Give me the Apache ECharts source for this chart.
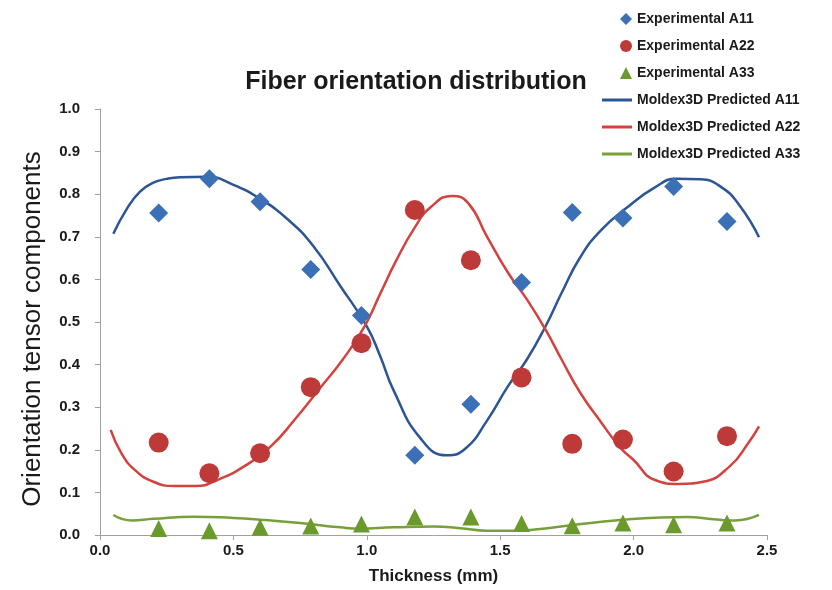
<!DOCTYPE html>
<html>
<head>
<meta charset="utf-8">
<script src="https://cdn.jsdelivr.net/npm/echarts@6/dist/echarts.min.js"></script>
<style>html,body{margin:0;padding:0;background:#fff}#c{width:832px;height:590px}</style>
</head>
<body>
<div id="c"></div>
<script>
// Experimental data
var expX   = [0.22, 0.41, 0.60, 0.79, 0.98, 1.18, 1.39, 1.58, 1.77, 1.96, 2.15, 2.35];
var expA11 = [0.756, 0.836, 0.782, 0.623, 0.515, 0.187, 0.307, 0.593, 0.757, 0.744, 0.818, 0.736];
var expA22 = [0.217, 0.145, 0.192, 0.347, 0.450, 0.763, 0.645, 0.370, 0.214, 0.224, 0.149, 0.232];
var expA33 = [0.015, 0.010, 0.018, 0.021, 0.026, 0.042, 0.042, 0.027, 0.022, 0.028, 0.024, 0.028];

// Predicted curves
var predA11X = [0.05,0.10,0.15,0.20,0.25,0.30,0.40,0.50,0.60,0.70,0.80,0.90,1.00,1.05,1.10,1.20,1.30,1.37,1.45,1.53,1.60,1.67,1.73,1.80,1.88,1.98,2.08,2.16,2.25,2.33,2.40,2.47];
var predA11  = [0.707,0.765,0.806,0.827,0.836,0.840,0.841,0.822,0.789,0.743,0.678,0.585,0.490,0.420,0.340,0.228,0.187,0.203,0.268,0.350,0.412,0.490,0.568,0.652,0.717,0.771,0.816,0.836,0.835,0.816,0.771,0.699];
var predA22X = [0.04,0.08,0.13,0.20,0.28,0.36,0.44,0.54,0.64,0.73,0.83,0.91,0.99,1.05,1.11,1.18,1.24,1.32,1.38,1.45,1.53,1.60,1.67,1.73,1.80,1.88,1.95,2.00,2.08,2.17,2.26,2.36,2.43,2.47];
var predA22  = [0.247,0.192,0.153,0.125,0.115,0.115,0.129,0.161,0.208,0.271,0.349,0.412,0.488,0.566,0.644,0.722,0.770,0.796,0.779,0.701,0.615,0.553,0.482,0.412,0.334,0.263,0.205,0.176,0.129,0.120,0.125,0.161,0.216,0.255];
var predA33X = [0.05,0.12,0.20,0.35,0.50,0.60,0.75,0.90,0.97,1.10,1.25,1.35,1.45,1.55,1.65,1.78,1.95,2.10,2.20,2.30,2.38,2.47];
var predA33  = [0.047,0.034,0.038,0.043,0.040,0.036,0.028,0.018,0.015,0.018,0.020,0.016,0.010,0.010,0.014,0.024,0.035,0.041,0.042,0.037,0.034,0.047];

var xTicks = ['0.0','0.5','1.0','1.5','2.0','2.5'];
var yTicks = ['0.0','0.1','0.2','0.3','0.4','0.5','0.6','0.7','0.8','0.9','1.0'];

function pairs(xs, ys){ return xs.map(function(x,i){ return [x, ys[i]]; }); }

var FONT = '"Liberation Sans", Arial, sans-serif';
var LINE_ICON = 'path://M0,0 L100,0 L100,10 L0,10 Z';
var chart = echarts.init(document.getElementById('c'), null, {renderer:'canvas'});
chart.setOption({
  animation: false,
  backgroundColor: '#fff',
  title: {
    text: 'Fiber orientation distribution',
    left: 'center', top: 65,
    textStyle: {fontFamily: FONT, fontSize: 25, fontWeight: 'bold', color: '#1a1a1a'}
  },
  legend: [{
    data: ['Experimental A11','Experimental A22','Experimental A33'],
    orient: 'vertical', left: 615, top: 6,
    itemWidth: 12, itemHeight: 12, itemGap: 11,
    textStyle: {fontFamily: FONT, fontSize: 14, fontWeight: 'bold', color: '#1a1a1a', lineHeight: 16}
  },{
    data: [
      {name: 'Moldex3D Predicted A11', icon: LINE_ICON},
      {name: 'Moldex3D Predicted A22', icon: LINE_ICON},
      {name: 'Moldex3D Predicted A33', icon: LINE_ICON}
    ],
    orient: 'vertical', left: 597, top: 87,
    itemWidth: 30, itemHeight: 3, itemGap: 11,
    textStyle: {fontFamily: FONT, fontSize: 14, fontWeight: 'bold', color: '#1a1a1a', lineHeight: 16}
  }],
  grid: {left: 100, right: 65, top: 109, bottom: 54},
  xAxis: {
    type: 'value', min: 0, max: 2.5, interval: 0.5,
    name: 'Thickness (mm)', nameLocation: 'middle', nameGap: 33,
    nameTextStyle: {fontFamily: FONT, fontSize: 17, fontWeight: 'bold', color: '#1a1a1a'},
    axisLine: {show: true, lineStyle: {color: '#a0a0a0', width: 1}},
    axisTick: {show: true, inside: false, length: 5, lineStyle: {color: '#a0a0a0'}},
    axisLabel: {margin: 8, fontFamily: FONT, fontSize: 15, fontWeight: 'bold', color: '#1a1a1a',
      formatter: function(v){ return xTicks[Math.round(v/0.5)]; }},
    splitLine: {show: false}
  },
  yAxis: {
    type: 'value', min: 0, max: 1.0, interval: 0.1,
    name: 'Orientation tensor components', nameLocation: 'middle', nameGap: 54,
    nameTextStyle: {fontFamily: FONT, fontSize: 26, color: '#1a1a1a', padding: [0, 14, 0, 0]},
    axisLine: {show: true, lineStyle: {color: '#a0a0a0', width: 1}},
    axisTick: {show: true, inside: false, length: 5, lineStyle: {color: '#a0a0a0'}},
    axisLabel: {margin: 20, fontFamily: FONT, fontSize: 15, fontWeight: 'bold', color: '#1a1a1a',
      formatter: function(v){ return yTicks[Math.round(v*10)]; }},
    splitLine: {show: false}
  },
  series: [
    {name: 'Moldex3D Predicted A11', type: 'line', smooth: 0.5, symbol: 'none', data: pairs(predA11X, predA11),
     lineStyle: {color: '#2c5593', width: 2.5}, itemStyle: {color: '#2c5593'}, z: 2},
    {name: 'Moldex3D Predicted A22', type: 'line', smooth: 0.5, symbol: 'none', data: pairs(predA22X, predA22),
     lineStyle: {color: '#d4423f', width: 2.5}, itemStyle: {color: '#d4423f'}, z: 2},
    {name: 'Moldex3D Predicted A33', type: 'line', smooth: 0.5, symbol: 'none', data: pairs(predA33X, predA33),
     lineStyle: {color: '#77a03a', width: 2.5}, itemStyle: {color: '#77a03a'}, z: 2},
    {name: 'Experimental A11', type: 'scatter', symbol: 'diamond', symbolSize: [19, 19], data: pairs(expX, expA11),
     itemStyle: {color: '#3b6fb6', opacity: 1}, z: 3},
    {name: 'Experimental A22', type: 'scatter', symbol: 'circle', symbolSize: 20, data: pairs(expX, expA22),
     itemStyle: {color: '#be3a38', opacity: 1}, z: 3},
    {name: 'Experimental A33', type: 'scatter', symbol: 'triangle', symbolSize: [17, 17], data: pairs(expX, expA33),
     itemStyle: {color: '#6b9a2c', opacity: 1}, z: 3}
  ]
});
</script>
</body>
</html>
